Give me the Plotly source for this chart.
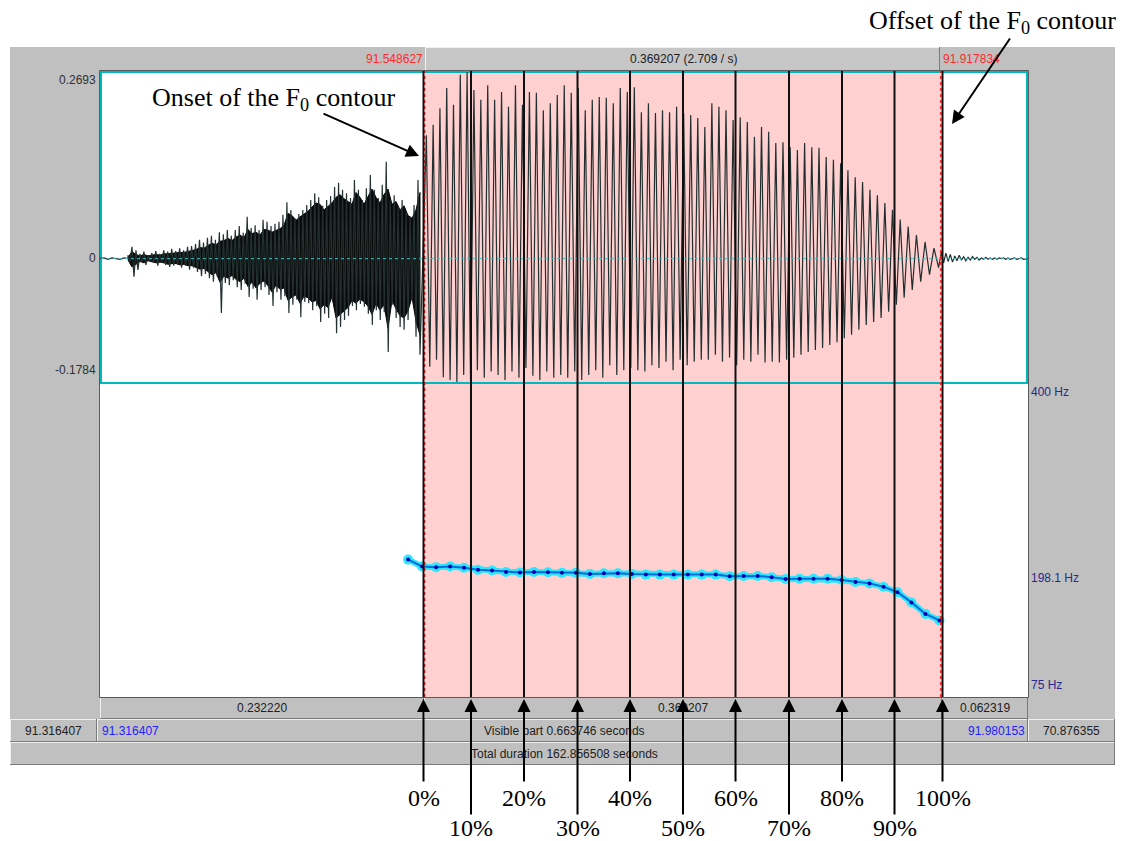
import numpy as np
import plotly.graph_objects as go

W, H = 1131, 841

# ---------------- data ----------------
view_start, view_end = 91.316407, 91.980153
sel_start, sel_end = 91.548627, 91.917834
amp_min, amp_max = -0.1784, 0.2693
f0_min, f0_max = 75.0, 400.0
f0_mark = 198.1

pitch_t0 = 91.5368
pitch_step = 0.01
pitch_hz = [217.2, 210.1, 209.4, 210.1, 208.7, 206.6, 205.9, 204.5, 203.8, 204.5,
            204.2, 203.5, 203.5, 202.4, 203.1, 203.1, 202.4, 201.7, 201.7, 201.7,
            201.7, 201.7, 201.7, 200.0, 200.3, 200.3, 198.9, 197.2, 197.5, 197.5,
            197.5, 196.1, 194.0, 192.6, 189.1, 183.5, 172.9, 161.0, 154.3]

marker_labels = ['0%', '10%', '20%', '30%', '40%', '50%', '60%', '70%', '80%', '90%', '100%']
marker_times = [91.54779, 91.58176, 91.61967, 91.65794, 91.69549, 91.73339,
                91.77095, 91.80921, 91.84712, 91.88467, 91.91900]

lead_t_end = 91.336434
lead_vals = [0.0, 0.001, -0.001, 0.001, 0.0, -0.001, 0.001, 0.0]

noise_start, noise_end = 91.336434, 91.545284
noise_top = [0.005, 0.017, 0.012, 0.007, 0.010, 0.005, 0.008, 0.011, 0.007, 0.012,
             0.010, 0.014, 0.011, 0.015, 0.012, 0.017, 0.018, 0.021, 0.027, 0.023,
             0.030, 0.033, 0.027, 0.038, 0.035, 0.041, 0.033, 0.041, 0.047, 0.037,
             0.060, 0.044, 0.048, 0.041, 0.056, 0.053, 0.047, 0.050, 0.053, 0.063,
             0.081, 0.070, 0.058, 0.064, 0.070, 0.077, 0.084, 0.094, 0.088, 0.076,
             0.084, 0.090, 0.103, 0.109, 0.099, 0.094, 0.087, 0.113, 0.099, 0.084,
             0.101, 0.120, 0.099, 0.087, 0.106, 0.139, 0.084, 0.091, 0.074, 0.084,
             0.066, 0.060, 0.077, 0.113]
noise_bottom = [-0.005, -0.026, -0.016, -0.005, -0.009, -0.003, -0.006, -0.010, -0.006, -0.009,
                -0.012, -0.010, -0.008, -0.013, -0.010, -0.016, -0.013, -0.019, -0.025, -0.022,
                -0.028, -0.033, -0.026, -0.078, -0.035, -0.038, -0.031, -0.041, -0.045, -0.036,
                -0.055, -0.043, -0.059, -0.045, -0.041, -0.052, -0.068, -0.048, -0.059, -0.054,
                -0.078, -0.066, -0.059, -0.084, -0.062, -0.064, -0.074, -0.068, -0.091, -0.079,
                -0.085, -0.059, -0.107, -0.098, -0.088, -0.082, -0.068, -0.074, -0.065, -0.069,
                -0.079, -0.095, -0.074, -0.088, -0.077, -0.134, -0.066, -0.085, -0.098, -0.102,
                -0.088, -0.059, -0.112, -0.138]
# solid core of the fricative noise (the densely filled band)
noise_core_top = [0.002, 0.010, 0.006, 0.004, 0.006, 0.004, 0.005, 0.006, 0.005, 0.007,
                  0.007, 0.008, 0.008, 0.009, 0.009, 0.010, 0.011, 0.013, 0.016, 0.015,
                  0.019, 0.022, 0.020, 0.025, 0.026, 0.029, 0.026, 0.031, 0.034, 0.030,
                  0.042, 0.036, 0.038, 0.034, 0.042, 0.041, 0.038, 0.040, 0.043, 0.048,
                  0.065, 0.062, 0.055, 0.060, 0.064, 0.068, 0.074, 0.080, 0.078, 0.070,
                  0.075, 0.080, 0.088, 0.092, 0.086, 0.082, 0.078, 0.095, 0.088, 0.078,
                  0.090, 0.100, 0.088, 0.080, 0.092, 0.100, 0.078, 0.082, 0.070, 0.076,
                  0.062, 0.058, 0.070, 0.095]
noise_core_bottom = [-0.002, -0.012, -0.008, -0.004, -0.006, -0.003, -0.005, -0.006, -0.005, -0.006,
                     -0.008, -0.007, -0.007, -0.009, -0.008, -0.010, -0.010, -0.012, -0.015, -0.014,
                     -0.019, -0.023, -0.020, -0.034, -0.025, -0.028, -0.024, -0.030, -0.033, -0.028,
                     -0.040, -0.034, -0.042, -0.035, -0.032, -0.039, -0.048, -0.038, -0.044, -0.042,
                     -0.060, -0.055, -0.052, -0.064, -0.054, -0.056, -0.062, -0.060, -0.072, -0.066,
                     -0.070, -0.055, -0.085, -0.080, -0.075, -0.070, -0.060, -0.064, -0.058, -0.062,
                     -0.068, -0.080, -0.064, -0.074, -0.066, -0.100, -0.060, -0.072, -0.082, -0.085,
                     -0.075, -0.055, -0.090, -0.110]

voiced_top = [0.177, 0.192, 0.216, 0.245, 0.221, 0.264, 0.268, 0.242, 0.228, 0.249,
              0.228, 0.239, 0.218, 0.249, 0.221, 0.239, 0.238, 0.213, 0.223, 0.235,
              0.249, 0.238, 0.245, 0.213, 0.228, 0.232, 0.231, 0.223, 0.245, 0.239,
              0.246, 0.210, 0.223, 0.209, 0.213, 0.210, 0.218, 0.209, 0.206, 0.202,
              0.189, 0.223, 0.218, 0.213, 0.199, 0.203, 0.196, 0.175, 0.189, 0.182,
              0.166, 0.167, 0.160, 0.156, 0.166, 0.160, 0.159, 0.146, 0.142, 0.137,
              0.127, 0.117, 0.110, 0.099, 0.091, 0.080, 0.070, 0.056, 0.046, 0.034, 0.024, 0.015]
voiced_bottom = [-0.155, -0.145, -0.170, -0.174, -0.177, -0.167, -0.174, -0.160, -0.171, -0.162,
                 -0.167, -0.174, -0.162, -0.171, -0.157, -0.168, -0.174, -0.162, -0.171, -0.167,
                 -0.171, -0.162, -0.174, -0.167, -0.160, -0.171, -0.153, -0.167, -0.160, -0.157,
                 -0.160, -0.162, -0.153, -0.157, -0.148, -0.160, -0.145, -0.153, -0.148, -0.145,
                 -0.145, -0.138, -0.148, -0.142, -0.153, -0.145, -0.148, -0.138, -0.149, -0.148,
                 -0.149, -0.145, -0.142, -0.138, -0.134, -0.131, -0.128, -0.124, -0.120, -0.114,
                 -0.109, -0.102, -0.095, -0.091, -0.085, -0.076, -0.066, -0.056, -0.045, -0.033, -0.023, -0.013]

tail_vals = [0.010, -0.006, 0.008, -0.004, 0.006, -0.005, 0.004, -0.003, 0.005, -0.002,
             0.003, -0.003, 0.002, -0.002, 0.003, -0.001, 0.002, -0.002, 0.001, -0.001,
             0.002, -0.001, 0.001, -0.001, 0.001, -0.001, 0.001, 0.0, 0.001, -0.001,
             0.001, -0.001, 0.0, 0.001, -0.001, 0.0, 0.001, -0.001, 0.0, 0.0]

top_mid_text = '0.369207 (2.709 / s)'
bottom_left_text = '0.232220'
bottom_mid_text = '0.369207'
bottom_right_text = '0.062319'
row2_left = '91.316407'
row2_right = '70.876355'
visible_text = 'Visible part 0.663746 seconds'
total_text = 'Total duration 162.856508 seconds'
hz_labels = [(400.0, '400 Hz'), (198.1, '198.1 Hz'), (75.0, '75 Hz')]

# ---------------- build waveform path ----------------
pitch_times = pitch_t0 + pitch_step * np.arange(len(pitch_hz))
tt = np.linspace(sel_start, sel_end, 3000)
ff = np.interp(tt, pitch_times, pitch_hz)
phase = np.concatenate([[0.0], np.cumsum((ff[1:] + ff[:-1]) / 2 * np.diff(tt))])
N = len(voiced_top)
phase = phase * N / phase[-1]
peak_t = np.interp(np.arange(N) + 0.25, phase, tt)
trough_t = np.interp(np.arange(N) + 0.75, phase, tt)
v_t = np.empty(2 * N); v_t[0::2] = peak_t; v_t[1::2] = trough_t
v_a = np.empty(2 * N); v_a[0::2] = voiced_top; v_a[1::2] = voiced_bottom

lead_t = np.linspace(view_start, lead_t_end, len(lead_vals))
nn = len(noise_top)
n_t = np.linspace(noise_start, noise_end, 2 * nn)
n_a = np.empty(2 * nn); n_a[0::2] = noise_top; n_a[1::2] = noise_bottom
tail_t = np.linspace(sel_end + 0.0004, view_end, len(tail_vals))

wave_t = np.concatenate([lead_t, n_t, v_t, tail_t])
wave_a = np.concatenate([lead_vals, n_a, v_a, tail_vals])

core_t = np.linspace(noise_start, noise_end, nn)
poly_t = np.concatenate([core_t, core_t[::-1]])
poly_a = np.concatenate([noise_core_top, noise_core_bottom[::-1]])


def px(x):
    return x / W


def py(y):
    return 1 - y / H


fig = go.Figure()

fig.add_trace(go.Scatter(x=poly_t, y=poly_a, mode='lines', fill='toself', fillcolor='#0a0a0a',
                         xaxis='x', yaxis='y', line=dict(color='#0a0a0a', width=1), hoverinfo='skip'))
fig.add_trace(go.Scatter(x=wave_t, y=wave_a, mode='lines', xaxis='x', yaxis='y',
                         line=dict(color='#233030', width=1.2), hoverinfo='skip'))
fig.add_trace(go.Scatter(x=pitch_times, y=pitch_hz, mode='lines+markers', xaxis='x', yaxis='y2',
                         line=dict(color='#2ee6ff', width=6),
                         marker=dict(color='#2ee6ff', size=10), hoverinfo='skip'))
fig.add_trace(go.Scatter(x=pitch_times, y=pitch_hz, mode='lines+markers', xaxis='x', yaxis='y2',
                         line=dict(color='#0a6ad8', width=2),
                         marker=dict(color='#0000b4', size=4), hoverinfo='skip'))

GRAY = '#c0c0c0'
shapes = []
shapes.append(dict(type='rect', xref='paper', yref='paper', x0=px(10), x1=px(1115), y0=py(765), y1=py(47),
                   fillcolor=GRAY, line=dict(width=0), layer='below'))


def cell(x0, y0, x1, y1, fill=GRAY):
    shapes.append(dict(type='rect', xref='paper', yref='paper', x0=px(x0), x1=px(x1), y0=py(y1), y1=py(y0),
                       fillcolor=fill, line=dict(width=0), layer='below'))
    shapes.append(dict(type='line', xref='paper', yref='paper', x0=px(x0), x1=px(x1), y0=py(y0 + 0.5), y1=py(y0 + 0.5),
                       line=dict(color='#f0f0f0', width=1), layer='below'))
    shapes.append(dict(type='line', xref='paper', yref='paper', x0=px(x0 + 0.5), x1=px(x0 + 0.5), y0=py(y0), y1=py(y1),
                       line=dict(color='#f0f0f0', width=1), layer='below'))
    shapes.append(dict(type='line', xref='paper', yref='paper', x0=px(x0), x1=px(x1), y0=py(y1 - 0.5), y1=py(y1 - 0.5),
                       line=dict(color='#7a7a7a', width=1), layer='below'))
    shapes.append(dict(type='line', xref='paper', yref='paper', x0=px(x1 - 0.5), x1=px(x1 - 0.5), y0=py(y0), y1=py(y1),
                       line=dict(color='#7a7a7a', width=1), layer='below'))


cell(425, 47, 940, 71, fill='#c6c6c6')
cell(100, 697, 424, 719)
cell(424, 697, 942, 719)
cell(942, 697, 1028, 719)
cell(10, 719, 97, 742)
cell(97, 719, 1028, 742)
cell(1028, 719, 1115, 742)
cell(10, 742, 1115, 765)

shapes.append(dict(type='rect', xref='paper', yref='paper', x0=px(99.5), x1=px(1028.5), y0=py(697.5), y1=py(70.5),
                   fillcolor='white', line=dict(color='#5a5a5a', width=1), layer='below'))
shapes.append(dict(type='rect', xref='x', yref='paper', x0=sel_start, x1=sel_end, y0=py(697), y1=py(71),
                   fillcolor='#ffd0d0', line=dict(width=0), layer='below'))
shapes.append(dict(type='rect', xref='paper', yref='paper', x0=px(101), x1=px(1027), y0=py(383), y1=py(72),
                   line=dict(color='#00b8c0', width=2), layer='below'))
shapes.append(dict(type='line', xref='paper', yref='y', x0=px(101), x1=px(1027), y0=0, y1=0,
                   line=dict(color='#30c8c8', width=1, dash='dot'), layer='above'))
for t in (sel_start, sel_end):
    shapes.append(dict(type='line', xref='x', yref='paper', x0=t, x1=t, y0=py(697), y1=py(71),
                       line=dict(color='#ff2020', width=1.5, dash='dot'), layer='above'))
for t in marker_times:
    shapes.append(dict(type='line', xref='x', yref='paper', x0=t, x1=t, y0=py(697), y1=py(71),
                       line=dict(color='#101010', width=2), layer='above'))

ann = []
SANS = 'Liberation Sans'
SERIF = 'Liberation Serif'


def txt(x, y, s, color='#202020', xanchor='center', yanchor='middle', xref='paper', yref='paper', size=12, family=SANS, yshift=0):
    ann.append(dict(x=x, y=y, xref=xref, yref=yref, text=s, showarrow=False, xanchor=xanchor, yanchor=yanchor,
                    font=dict(family=family, size=size, color=color), yshift=yshift))


txt(sel_start, py(59), f'{sel_start:.6f}', color='#ff2a2a', xanchor='right', xref='x')
txt(sel_end, py(59), f'{sel_end:.6f}', color='#ff2a2a', xanchor='left', xref='x')
txt(px(683), py(59), top_mid_text)
txt(px(98), amp_max, f'{amp_max:.4f}', xanchor='right', yanchor='top', yref='y', color='#303030')
txt(px(98), 0, '0', xanchor='right', yref='y', color='#303030', yshift=1)
txt(px(98), amp_min, f'{amp_min:.4f}', xanchor='right', yanchor='bottom', yref='y', color='#303030', yshift=4)
for v, s in hz_labels:
    ya = 'top' if v == f0_max else ('bottom' if v == f0_min else 'middle')
    txt(px(1029), v, s, color='#28288c', xanchor='left', yanchor=ya, yref='y2', yshift=(3 if v == f0_min else 0))
txt(px(262), py(708), bottom_left_text)
txt(px(683), py(708), bottom_mid_text)
txt(px(985), py(708), bottom_right_text)
txt(px(53), py(731), row2_left)
txt(px(100), py(731), f'{view_start:.6f}', color='#2020ff', xanchor='left')
txt(px(564), py(731), visible_text)
txt(px(1027), py(731), f'{view_end:.6f}', color='#2020ff', xanchor='right')
txt(px(1071), py(731), row2_right)
txt(px(564), py(754), total_text)

# percent labels with their arrows (label sits at the arrow tail)
for i, (t, lab) in enumerate(zip(marker_times, marker_labels)):
    even = (i % 2 == 0)
    ann.append(dict(x=t, y=py(699), xref='x', yref='paper', ax=0, ay=(99 if even else 129),
                    text=lab, showarrow=True, arrowhead=2, arrowsize=1.3, arrowwidth=2, arrowcolor='black',
                    startstandoff=(4 if even else 1), height=24, borderpad=0,
                    font=dict(family=SERIF, size=24, color='black')))

txt(px(273), py(99), 'Onset of the F<sub>0</sub> contour', color='black', size=26, family=SERIF)
txt(px(992), py(22), 'Offset of the F<sub>0</sub> contour', color='black', size=26, family=SERIF)
ann.append(dict(x=px(419), y=py(156), xref='paper', yref='paper', ax=-97, ay=-43, text='', showarrow=True,
                arrowhead=2, arrowsize=1.3, arrowwidth=2, arrowcolor='black'))
ann.append(dict(x=px(952), y=py(124), xref='paper', yref='paper', ax=59, ay=-87, text='', showarrow=True,
                arrowhead=2, arrowsize=1.3, arrowwidth=2, arrowcolor='black'))

fig.update_layout(
    width=W, height=H, margin=dict(l=0, r=0, t=0, b=0),
    paper_bgcolor='white', plot_bgcolor='rgba(0,0,0,0)', showlegend=False,
    xaxis=dict(domain=[px(100), px(1028)], range=[view_start, view_end], visible=False, anchor='y2', fixedrange=True),
    yaxis=dict(domain=[py(383), py(71)], range=[amp_min, amp_max], visible=False, anchor='x', fixedrange=True),
    yaxis2=dict(domain=[py(697), py(383)], range=[f0_min, f0_max], visible=False, anchor='x', fixedrange=True),
    shapes=shapes, annotations=ann,
)

fig.write_html('out.html')
